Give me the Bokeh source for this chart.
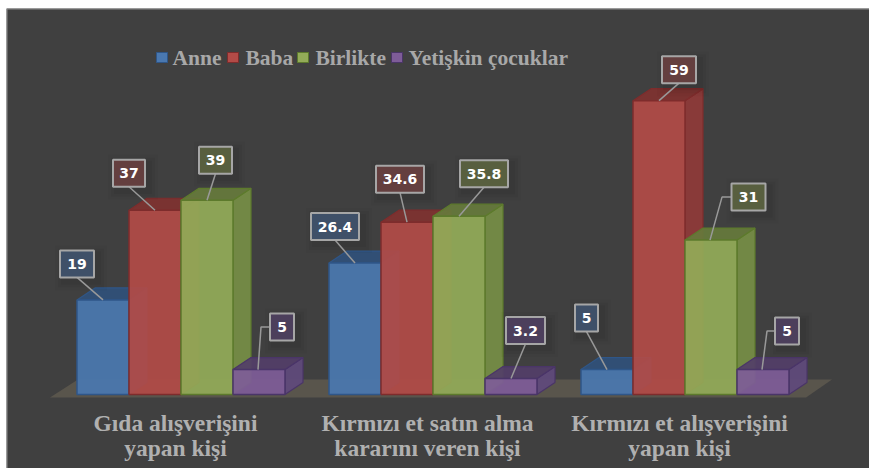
from bokeh.plotting import figure
from bokeh.models import Range1d
from bokeh.core.properties import value
from bokeh.embed import file_html
from bokeh.resources import INLINE

# ---- data
category_lines = [["Gıda alışverişini", "yapan kişi"],
                  ["Kırmızı et satın alma", "kararını veren kişi"],
                  ["Kırmızı et alışverişini", "yapan kişi"]]
series_names = ["Anne", "Baba", "Birlikte", "Yetişkin çocuklar"]
anne = [19, 26.4, 5]
baba = [37, 34.6, 59]
birlikte = [39, 35.8, 31]
yetiskin = [5, 3.2, 5]
all_series = [anne, baba, birlikte, yetiskin]

# ---- styles / layout
BG = "#404040"
FRONT = ["#4a78b0", "#b24b47", "#93ab58", "#7e5c98"]
SIDE = ["#3a5f8e", "#8f3a38", "#768e45", "#5f4a7c"]
TOP = ["#30507a", "#7f3230", "#667a3c", "#533e68"]
EDGE = ["#2f5688", "#7e2c2c", "#5d7a2c", "#4a3568"]
BOX = ["#3f5068", "#643f3f", "#585f3f", "#4c3f5c"]
LEFT_PAD, TOP_PAD = 6, 8
W, H = 869, 468
PX_GROUP = 252.0     # pixels between categories
PX_VAL = 4.98        # pixels per value unit
BAR = 52 / PX_GROUP  # bar width, in category units
DX, DY = 18 / PX_GROUP, 12 / PX_VAL  # 3D depth
ORIGIN_X, ORIGIN_Y = 180.5, 394.0    # image pixel of (group 0, value 0)

def ux(px):
    return px / PX_GROUP

def uy(px):
    return px / PX_VAL

x_start, x_end = (LEFT_PAD - ORIGIN_X) / PX_GROUP, (W - ORIGIN_X) / PX_GROUP
y_start, y_end = (ORIGIN_Y - H) / PX_VAL, (ORIGIN_Y - TOP_PAD) / PX_VAL
p = figure(width=W, height=H, output_backend="svg", toolbar_location=None,
           x_axis_location=None, y_axis_location=None, min_border=0,
           min_border_left=LEFT_PAD, min_border_top=TOP_PAD,
           x_range=Range1d(x_start, x_end), y_range=Range1d(y_start, y_end),
           background_fill_color=BG, border_fill_color="#ffffff",
           outline_line_color=None)
p.grid.visible = False

# thin frame on the top and left edges only
p.line([x_start + ux(0.5), x_start + ux(0.5), x_end], [y_start, y_end - uy(0.5), y_end - uy(0.5)],
       line_color="#8c8c8c", line_width=1)

# floor
first_left = -2 * BAR
last_right = 2 + 2 * BAR
p.patch([first_left - ux(27), first_left + ux(1), last_right + ux(43), last_right + ux(17)],
        [uy(-3), uy(15), uy(15), uy(-3)], fill_color="#59554c", line_color=None)

# bars
for g in range(3):
    for s, vals in enumerate(all_series):
        v = vals[g]
        x0 = g + (s - 2) * BAR
        x1 = x0 + BAR
        p.patch([x1, x1 + DX, x1 + DX, x1], [0, DY, v + DY, v],
                fill_color=SIDE[s], line_color=EDGE[s], fill_alpha=0.92, line_width=1.2)
        p.patch([x0, x0 + DX, x1 + DX, x1], [v, v + DY, v + DY, v],
                fill_color=TOP[s], line_color=EDGE[s], fill_alpha=0.92, line_width=1.2)
        p.quad(left=x0, right=x1, bottom=0, top=v, fill_color=FRONT[s],
               line_color=EDGE[s], fill_alpha=0.92, line_width=1.5)

# data labels: box centre offset from bar top, box width, elbow offset (None = straight line)
label_layout = [
    [(-26, -36, 34, None), (-26, -37, 32, None), (8.5, -40, 33, None), (23, -42.5, 24, 2)],
    [(-20, -36.5, 48, None), (-7, -43, 48, None), (25, -42.5, 48, None), (14.5, -48, 39, None)],
    [(-20.5, -51.5, 23, None), (20, -31, 34, None), (37.5, -43, 34, 11), (24, -38.5, 24, 4)],
]
BOX_H = 27
for g in range(3):
    for s, vals in enumerate(all_series):
        v = vals[g]
        cx = g + (s - 1.5) * BAR
        ox, oy, bw, elbow = label_layout[g][s]
        bx, by = cx + ux(ox), v - uy(oy)
        hw, hh = ux(bw / 2), uy(BOX_H / 2)
        # soft shadow
        for grow, a in ((9, 0.025), (6, 0.035), (3, 0.05)):
            p.quad(left=bx - hw + ux(4 - grow), right=bx + hw + ux(4 + grow),
                   bottom=by - hh - uy(4 + grow), top=by + hh - uy(4 - grow),
                   fill_color="#000000", fill_alpha=a, line_color=None)
        # leader line
        if elbow is not None:
            xs = [cx - ux(1), cx + ux(elbow), bx - hw]
            ys = [v, by, by]
        else:
            xs = [cx, bx]
            ys = [v, by - hh]
        p.line(xs, ys, line_color="#999999", line_width=1.5)
        p.quad(left=bx - hw, right=bx + hw, bottom=by - hh, top=by + hh,
               fill_color=BOX[s], line_color="#a6a6a6", line_width=2)
        p.text([bx], [by], text=[str(v)], text_color="#ffffff", text_align="center",
               text_baseline="middle", text_font=value("DejaVu Sans"),
               text_font_style="bold", text_font_size="14px")

# category labels
for g, lines in enumerate(category_lines):
    for i, line in enumerate(lines):
        p.text([g - ux(5.5)], [uy(-28.5 - 24.5 * i)], text=[line], text_color="#b0b0b0",
               text_align="center", text_baseline="middle",
               text_font=value("Liberation Serif"), text_font_style="bold",
               text_font_size="23.5px")

# legend
legend_pos = [(156, 172), (227, 245), (297, 315), (391, 408)]
for s, name in enumerate(series_names):
    sq, tx = legend_pos[s]
    base_x = (sq - ORIGIN_X) / PX_GROUP
    text_x = (tx - ORIGIN_X) / PX_GROUP
    ly = (ORIGIN_Y - 57) / PX_VAL
    p.quad(left=base_x, right=base_x + ux(11), bottom=ly - uy(5), top=ly + uy(5),
           fill_color=FRONT[s], line_color=EDGE[s], line_width=1)
    p.text([text_x], [ly], text=[name], text_color="#a8a8a8", text_align="left",
           text_baseline="middle", text_font=value("Liberation Serif"),
           text_font_style="bold", text_font_size="21.5px")

open("out.html", "w").write(file_html(p, INLINE))
